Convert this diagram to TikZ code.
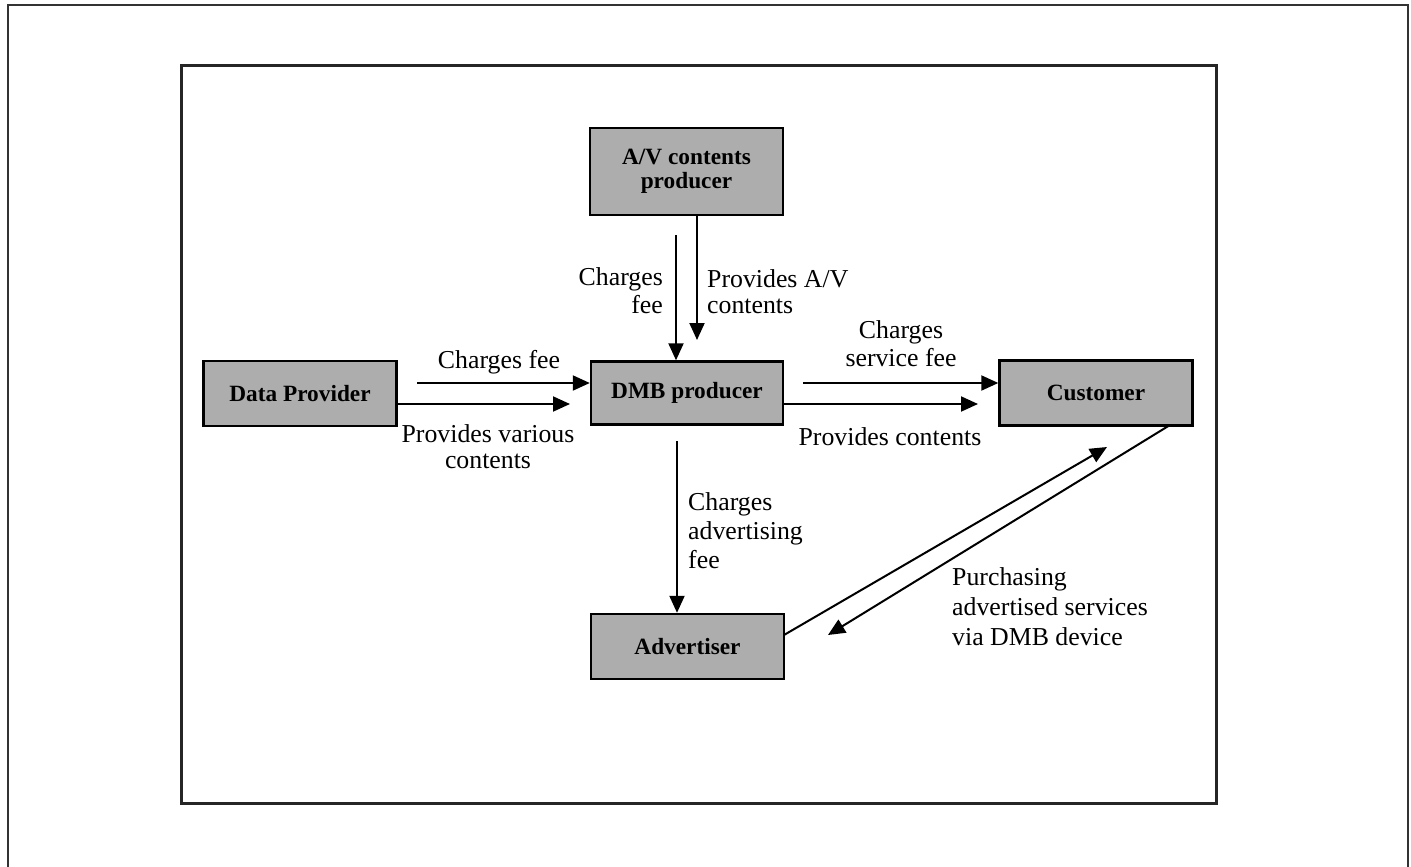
\documentclass[tikz,border=0pt]{standalone}
\usepackage{fontspec}
\setmainfont{Liberation Serif}
\usetikzlibrary{arrows.meta}
\definecolor{boxfill}{gray}{0.68}
\begin{document}
\begin{tikzpicture}[x=1pt,y=-1pt,
  entity/.style={draw=black,line width=2.4pt,fill=boxfill,inner sep=0pt,
    minimum width=193pt,minimum height=65pt,
    font=\fontsize{23.3}{26}\selectfont\bfseries},
  flow/.style={line width=2pt,-{Triangle[length=17pt,width=15pt]}},
  lbl/.style={inner sep=0pt,font=\fontsize{25.8}{28}\selectfont},
]
\useasboundingbox (0,0) rectangle (1411,867);
% outer page edge and frame
\draw[line width=1.5pt,black!80] (8,867) -- (8,5) -- (1408,5) -- (1408,867);
\draw[line width=3pt,black!85] (181,66) rectangle (1216,803);

% entities
\node[entity,minimum height=87pt,align=center] (av) at (686.5,171.5) {A/V contents\\[-2pt]producer};
\node[entity] (dp) at (300,393.5) {Data Provider};
\node[entity,minimum width=192pt,minimum height=63pt] (dmb) at (687,393) {DMB producer};
\node[entity] (cust) at (1096,393) {Customer};
\node[entity] (adv) at (687.5,646.5) {Advertiser};

% free ends
\coordinate (avtip) at (697,340);
\coordinate (cfstart) at (676,235);
\coordinate (dpcf) at (417,383);
\coordinate (dppvtip) at (570,404);
\coordinate (csf) at (803,383);
\coordinate (pctip) at (978,404);
\coordinate (adstart) at (677,441);
\coordinate (advout) at (784,635);
\coordinate (purtip) at (1107,447);
\coordinate (custout) at (1170,425);
\coordinate (advtip) at (828,635);

% connectors
\draw[flow] (av.south -| avtip) -- (avtip);
\draw[flow] (cfstart) -- (cfstart |- dmb.north);
\draw[flow] (dpcf) -- (dpcf -| dmb.west);
\draw[flow] (dp.east |- dppvtip) -- (dppvtip);
\draw[flow] (csf) -- (csf -| cust.west);
\draw[flow] (dmb.east |- pctip) -- (pctip);
\draw[flow] (adstart) -- (adstart |- adv.north);
\draw[flow] (advout) -- (purtip);
\draw[flow] (custout) -- (advtip);

% labels (base anchor = baseline of last line)
\node[lbl,align=right,anchor=base east] (l1) at (663,313) {Charges\\fee};
\node[lbl,align=left,anchor=base west,font=\fontsize{25.8}{26}\selectfont] (l2) at (707,313) {Provides A/V\\contents};
\node[lbl,anchor=base] (l3) at (499,368) {Charges fee};
\node[lbl,align=center,anchor=base,font=\fontsize{25.8}{26}\selectfont] (l4) at (488,468) {Provides various\\contents};
\node[lbl,align=center,anchor=base] (l5) at (901,366) {Charges\\service fee};
\node[lbl,anchor=base] (l6) at (890,445) {Provides contents};
\node[lbl,align=left,anchor=base west,font=\fontsize{25.8}{29}\selectfont] (l7) at (688,568) {Charges\\advertising\\fee};
\node[lbl,align=left,anchor=base west,font=\fontsize{25.8}{30}\selectfont] (l8) at (952,645) {Purchasing\\advertised services\\via DMB device};
\end{tikzpicture}
\end{document}
